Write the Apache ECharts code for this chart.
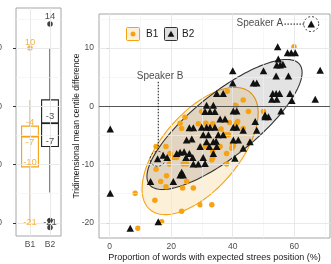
<!DOCTYPE html>
<html><head><meta charset="utf-8">
<script src="https://cdn.jsdelivr.net/npm/echarts@6/dist/echarts.min.js"></script>
<style>html,body{margin:0;padding:0;background:#fff}#c{width:331px;height:264px}</style>
</head><body><div id="c"></div>
<script>
const ORANGE = '#F5A214';
const DARK = '#111111';

// Scatter data: B1 (orange circles) and B2 (black triangles)
const b1Points = [
 [59.9,10.2],[38.2,2.6],[40.7,0.2],[43.4,1.1],[45.1,-0.9],[50.0,-0.9],[29.9,-0.9],[24.5,-1.9],
 [28.8,-3.0],[31.3,-2.9],[33.5,-3.0],[23.4,-3.8],[37.5,-4.9],[30.2,-6.9],[31.0,-6.9],[35.9,-6.9],
 [15.1,-6.9],[18.3,-6.9],[19.6,-8.1],[33.5,-7.7],[20.7,-8.8],[21.8,-8.8],[33.5,-8.8],[38.0,-8.1],
 [19.4,-9.9],[23.9,-9.9],[25.0,-9.9],[15.1,-10.8],[18.5,-11.9],[16.6,-12.9],[25.0,-12.9],[18.3,-13.8],
 [23.7,-14.0],[27.2,-14.0],[8.3,-14.9],[14.7,-16.1],[29.4,-16.9],[33.2,-16.9],[23.4,-18.0],[16.9,-19.8],
 [9.2,-20.9],[38.0,-9.9],[39.9,-6.6],[41.3,-2.9],[40.7,-3.8],[39.7,-7.2],[33.2,-9.2],[41.6,-2.6],
 [38.9,-2.8],[36.2,-3.9],[38.6,-4.9],[43.4,-3.8],[40.2,-6.8],[22.9,-2.9],[41.1,0.1]
];
const b2Points = [
 [65.5,14.1],[54.6,10.2],[57.8,9.2],[59.0,9.2],[60.3,9.2],[54.8,8.1],[54.3,7.1],[55.4,7.1],[56.3,7.2],
 [40.0,6.1],[50.0,6.1],[68.4,6.2],[54.1,5.2],[58.1,5.2],[40.0,4.0],[46.7,4.0],[47.8,4.0],[53.0,2.2],
 [54.1,2.2],[55.2,2.2],[58.6,2.2],[52.7,1.2],[54.3,1.2],[59.2,1.0],[66.8,1.2],[34.8,2.2],[36.9,2.2],
 [55.7,-0.8],[47.3,-2.6],[40.2,-0.8],[41.3,-0.8],[50.5,-1.8],[51.6,-1.8],[31.0,-0.9],[32.6,-0.9],
 [34.2,-0.9],[35.9,-2.2],[37.5,-2.2],[29.9,-3.6],[31.5,-3.6],[32.6,-3.6],[34.2,-3.6],[40.2,-3.6],
 [41.3,-3.6],[35.3,-4.9],[36.9,-4.9],[30.4,-4.9],[32.1,-4.9],[40.2,-5.8],[41.8,-5.8],[31.5,-6.1],
 [33.7,-6.1],[45.6,-6.1],[29.4,-6.9],[50.5,-1.5],[43.4,-4.1],[43.4,-7.2],[31.5,0.2],[33.7,0.2],
 [25.9,-3.7],[27.2,-3.7],[25.0,-5.8],[26.7,-5.6],[34.6,-6.0],[32.4,-6.9],[34.8,-6.9],[21.8,-8.1],
 [22.9,-7.9],[24.2,-7.8],[25.9,-8.1],[24.8,-8.8],[27.0,-8.8],[15.6,-9.0],[17.4,-8.4],[18.7,-8.8],
 [30.4,-8.8],[28.8,-9.9],[31.0,-9.8],[27.2,-9.9],[22.9,-11.8],[23.9,-11.8],[23.4,-11.3],[13.3,-12.9],
 [20.7,-12.9],[15.8,-19.8],[0.2,-3.9],[0.2,-14.9],[6.7,-20.9],[40.7,-8.9],[47.8,-4.1],[33.7,-8.1]
];

// Boxplot panel
const boxCategories = ['B1','B2'];
const boxStats = [   // [position, lower whisker, Q1, median, Q3, upper whisker]
 [1, -19.8, -10.4, -5.2, -3.4, 1.1],
 [2, -14.8, -6.9, -2.9, 1.1, 10.0]
];
const boxOutliers = [[1,10.0],[2,14.1],[2,-19.6],[2,-20.8]];
const boxLabelText = [['10','-4','-7','-10','-21'],['14','-3','-7','-21']];
const boxLabelY = [[10.9,-2.8,-6.2,-9.7,-19.9],[15.4,-1.8,-6.1,-19.9]];

// Ellipses [cx, cy, ux, uy, vx, vy] (conjugate semi-axes, data units)
const ellipseB1 = [29.4,-7.67,18.86,6.52,0,-8.75];
const ellipseB2 = [37.33,-3.12,25.2,8.92,0,-6.69];

const speakerA = [65.5,14.1];
const speakerB = [15.6,-9.0];
const speakerALine = [[56.8,14.1],[63.2,14.1]];
const speakerBLine = [[15.8,4.2],[15.8,-7.5]];
const speakerALabel = [56.4,14.3];
const speakerBLabel = [16.4,5.2];

const xTicks = [0,20,40,60];
const xMinor = [10,30,50,70];
const yTicks = [-20,-10,0,10];
const yMinor = [-15,-5,5,15];

const FONT = 'Liberation Sans, Arial, sans-serif';
const TICKC = '#4D4D4D';
const MAJ = {color:'#E6E6E6', width:0.9, type:'solid'};
const MIN = {color:'#F2F2F2', width:0.6, type:'solid'};

function gridLines(xs, xsMinor, ys, ysMinor){
  const d = [];
  xsMinor.forEach(v=>d.push({xAxis:v, lineStyle:MIN}));
  ysMinor.forEach(v=>d.push({yAxis:v, lineStyle:MIN}));
  xs.forEach(v=>d.push({xAxis:v, lineStyle:MAJ}));
  ys.forEach(v=>d.push({yAxis:v, lineStyle:MAJ}));
  return d;
}

const chart = echarts.init(document.getElementById('c'), null, {renderer:'canvas'});

const ellipseFill = ['rgba(245,162,20,0.16)','rgba(0,0,0,0.11)'];
const ellipseStroke = [ORANGE,'#333333'];
const boxColors = [ORANGE, '#222222'];

const boxLabelData = [];
boxLabelText.forEach((arr,i)=>arr.forEach((t,j)=>boxLabelData.push({name:t, value:[i+1, boxLabelY[i][j]], label:{color:boxColors[i]}})));

const axisCommon = {
  axisLine:{show:false},
  splitLine:{show:false},
  nameMoveOverlap:false
};

chart.setOption({
  animation:false,
  textStyle:{fontFamily:FONT},
  grid:[
    {left:16, top:8, width:45, height:228, show:true, borderColor:'#A6A6A6', borderWidth:1, backgroundColor:'#fff', containLabel:false, outerBoundsMode:'none'},
    {left:99, top:14, width:231, height:224, show:true, borderColor:'#A6A6A6', borderWidth:1, backgroundColor:'#fff', containLabel:false, outerBoundsMode:'none'}
  ],
  xAxis:[
    Object.assign({}, axisCommon, {type:'value', gridIndex:0, min:0.3, max:2.55,
      axisTick:{show:true,length:3,customValues:[1,2],lineStyle:{color:'#333'}},
      axisLabel:{fontSize:8.5,color:TICKC,margin:4,customValues:[1,2],fontFamily:FONT,formatter:v=>boxCategories[Math.round(v)-1]}}),
    Object.assign({}, axisCommon, {type:'value', gridIndex:1, min:-3.45, max:71.6,
      axisTick:{show:true,length:3,customValues:xTicks,lineStyle:{color:'#333'}},
      axisLabel:{fontSize:8.5,color:TICKC,margin:4,customValues:xTicks,fontFamily:FONT},
      name:'Proportion of words with expected strees position (%)', nameLocation:'middle', nameGap:15,
      nameTextStyle:{fontSize:9, color:'#1a1a1a', fontFamily:FONT}})
  ],
  yAxis:[
    Object.assign({}, axisCommon, {type:'value', gridIndex:0, min:-22.25, max:16.86,
      axisTick:{show:true,length:3,customValues:yTicks,lineStyle:{color:'#333'}},
      axisLabel:{fontSize:8.5,color:TICKC,margin:14,customValues:yTicks,fontFamily:FONT}}),
    Object.assign({}, axisCommon, {type:'value', gridIndex:1, min:-22.59, max:15.83,
      axisTick:{show:true,length:3,customValues:yTicks,lineStyle:{color:'#333'}},
      axisLabel:{fontSize:8.5,color:TICKC,margin:5,customValues:yTicks,fontFamily:FONT},
      name:'Tridimensional mean centile difference', nameLocation:'middle', nameGap:18, nameRotate:90,
      nameTextStyle:{fontSize:8.5, color:'#1a1a1a', fontFamily:FONT}})
  ],
  series:[
    {type:'scatter', xAxisIndex:0, yAxisIndex:0, data:[], z:1, silent:true,
      markLine:{silent:true, symbol:'none', animation:false, label:{show:false}, data:gridLines([1,2],[],yTicks,yMinor)}},
    {type:'scatter', xAxisIndex:1, yAxisIndex:1, data:[], z:1, silent:true,
      markLine:{silent:true, symbol:'none', animation:false, label:{show:false}, data:gridLines(xTicks,xMinor,yTicks,yMinor)}},
    {type:'custom', xAxisIndex:1, yAxisIndex:1, z:2, silent:true,
      data:[ellipseB1, ellipseB2], encode:{x:0,y:1},
      renderItem:function(params, api){
        const cx=api.value(0), cy=api.value(1), ux=api.value(2), uy=api.value(3), vx=api.value(4), vy=api.value(5);
        const pts=[];
        for(let k=0;k<144;k++){const t=2*Math.PI*k/144;
          pts.push(api.coord([cx+ux*Math.cos(t)+vx*Math.sin(t), cy+uy*Math.cos(t)+vy*Math.sin(t)]));}
        const i=params.dataIndex;
        return {type:'polygon', shape:{points:pts}, style:{fill:ellipseFill[i], stroke:ellipseStroke[i], lineWidth:1.1}};
      }},
    {type:'scatter', xAxisIndex:1, yAxisIndex:1, data:[], z:3, silent:true,
      markLine:{silent:true, symbol:'none', animation:false, label:{show:false},
        data:[{yAxis:0, lineStyle:{color:'#555', width:1, type:'solid'}}]}},
    {type:'scatter', xAxisIndex:1, yAxisIndex:1, z:4, data:b1Points, symbol:'circle', symbolSize:5.5,
      itemStyle:{color:ORANGE, opacity:1}},
    {type:'scatter', xAxisIndex:1, yAxisIndex:1, z:5, data:b2Points, symbol:'triangle', symbolSize:[7.5,7],
      itemStyle:{color:DARK, opacity:1}},
    {type:'scatter', xAxisIndex:1, yAxisIndex:1, z:6, data:[speakerA, speakerB], symbol:'circle', symbolSize:15,
      itemStyle:{color:'rgba(0,0,0,0)', borderColor:'#111', borderWidth:1, borderType:[2,2]}},
    {type:'line', xAxisIndex:1, yAxisIndex:1, z:6, data:speakerALine, symbol:'none',
      lineStyle:{color:'#111', width:1, type:[1.5,1.5]}},
    {type:'line', xAxisIndex:1, yAxisIndex:1, z:6, data:speakerBLine, symbol:'none',
      lineStyle:{color:'#111', width:1, type:[1.5,1.5]}},
    {type:'scatter', xAxisIndex:1, yAxisIndex:1, z:7, symbolSize:0,
      data:[{name:'Speaker A', value:speakerALabel, label:{position:'left', distance:0}},
            {name:'Speaker B', value:speakerBLabel, label:{position:'inside'}}],
      label:{show:true, formatter:'{b}', fontSize:10, color:'#1a1a1a', fontFamily:FONT}},
    {type:'custom', xAxisIndex:0, yAxisIndex:0, z:3, data:boxStats, encode:{x:0,y:[1,5]},
      renderItem:function(params, api){
        const x=api.value(0), c=boxColors[params.dataIndex];
        const w=api.size([0.84,0])[0];
        const pMin=api.coord([x,api.value(1)]), pQ1=api.coord([x,api.value(2)]), pMed=api.coord([x,api.value(3)]),
              pQ3=api.coord([x,api.value(4)]), pMax=api.coord([x,api.value(5)]);
        return {type:'group', children:[
          {type:'line', shape:{x1:pMin[0],y1:pMin[1],x2:pQ1[0],y2:pQ1[1]}, style:{stroke:c,lineWidth:1.1}},
          {type:'line', shape:{x1:pQ3[0],y1:pQ3[1],x2:pMax[0],y2:pMax[1]}, style:{stroke:c,lineWidth:1.1}},
          {type:'rect', shape:{x:pQ3[0]-w/2,y:pQ3[1],width:w,height:pQ1[1]-pQ3[1]}, style:{fill:'#fff',stroke:c,lineWidth:1.1}},
          {type:'line', shape:{x1:pMed[0]-w/2,y1:pMed[1],x2:pMed[0]+w/2,y2:pMed[1]}, style:{stroke:c,lineWidth:1.8}}
        ]};
      }},
    {type:'scatter', xAxisIndex:0, yAxisIndex:0, z:4, data:boxOutliers, symbolSize:5.5,
      itemStyle:{color:function(p){return p.data[0]===1?ORANGE:DARK;}}},
    {type:'scatter', xAxisIndex:0, yAxisIndex:0, z:5, data:boxLabelData, symbolSize:0,
      label:{show:true, position:'inside', formatter:'{b}', fontSize:9.5, fontFamily:FONT}}
  ],
  graphic:[
    {type:'rect', shape:{x:126.5,y:27.5,width:13,height:13,r:1}, style:{fill:'#FDF0DB', stroke:ORANGE, lineWidth:1}, z:10},
    {type:'circle', shape:{cx:133,cy:34,r:2.5}, style:{fill:ORANGE}, z:11},
    {type:'text', x:146, y:34, style:{text:'B1', fontSize:10, fill:'#1a1a1a', verticalAlign:'middle', fontFamily:FONT}, z:11},
    {type:'rect', shape:{x:164.5,y:27.5,width:13,height:13,r:1}, style:{fill:'#DEDEDE', stroke:'#333', lineWidth:1}, z:10},
    {type:'polygon', shape:{points:[[171,30.7],[174.4,36.8],[167.6,36.8]]}, style:{fill:DARK}, z:11},
    {type:'text', x:182, y:34, style:{text:'B2', fontSize:10, fill:'#1a1a1a', verticalAlign:'middle', fontFamily:FONT}, z:11}
  ]
});
</script></body></html>
